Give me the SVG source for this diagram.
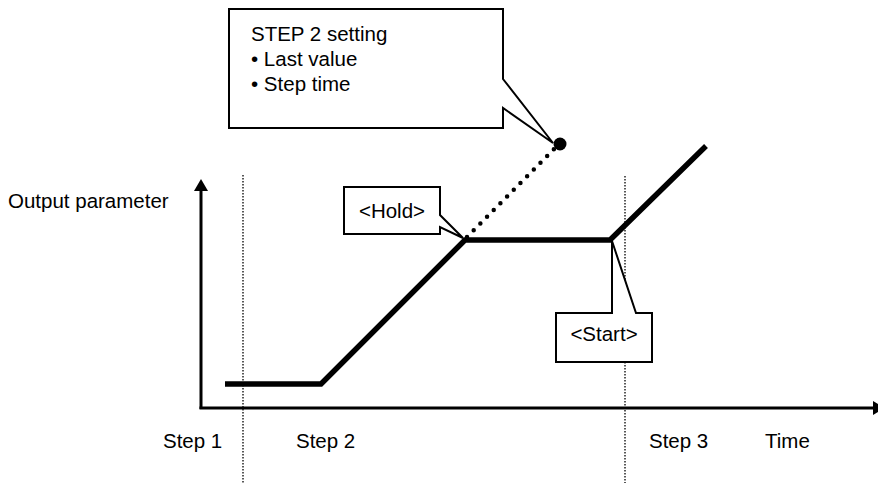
<svg xmlns="http://www.w3.org/2000/svg" width="878" height="483" viewBox="0 0 878 483">
<style>
text{font-family:"Liberation Sans",Arial,sans-serif;font-size:20.5px;fill:#000}
.callout{fill:#fff;stroke:#000;stroke-width:2;stroke-linejoin:miter}
.axis{stroke:#000;stroke-width:3;fill:none}
.grid{stroke:#000;stroke-width:1.3;stroke-dasharray:1.5 1.5;fill:none}
.curve{stroke:#000;stroke-width:5.5;fill:none;stroke-linejoin:miter}
</style>
<defs>
<marker id="arr" viewBox="0 0 12 14" refX="0" refY="7" markerWidth="12" markerHeight="14" markerUnits="userSpaceOnUse" orient="auto">
<path d="M0,0 L12,7 L0,14 Z" fill="#000"/>
</marker>
</defs>
<rect width="878" height="483" fill="#fff"/>
<g id="connectors">
<line class="grid" x1="243" y1="175" x2="243" y2="483"/>
<line class="grid" x1="625" y1="176" x2="625" y2="483"/>
<line class="axis" x1="201" y1="409" x2="201" y2="191" marker-end="url(#arr)"/>
<line class="axis" x1="199.5" y1="408" x2="873" y2="408" marker-end="url(#arr)"/>
<polyline class="curve" points="225,384 321,384 465,240 610,240 706,146"/>
<line x1="467" y1="237" x2="556" y2="147" stroke="#000" stroke-width="4.5" stroke-linecap="round" stroke-dasharray="0 9.5"/>
<circle cx="560" cy="144" r="6.5" fill="#000"/>
</g>
<g id="step2-callout">
<polygon class="callout" points="229,9 503,9 503,79 553,143 503,108 503,128 229,128"/>
<text x="251" y="41">STEP 2 setting</text>
<text x="251" y="66">• Last value</text>
<text x="251" y="91">• Step time</text>
</g>
<g id="hold-callout">
<polygon class="callout" points="344,187 440,187 440,215 463,238 440,227 440,234 344,234"/>
<text x="392" y="218" text-anchor="middle">&lt;Hold&gt;</text>
</g>
<g id="start-callout">
<polygon class="callout" points="556,313 612,313 612,241 636,313 652,313 652,362 556,362"/>
<text x="604" y="341" text-anchor="middle">&lt;Start&gt;</text>
</g>
<g id="labels">
<text x="8" y="208">Output parameter</text>
<text x="163" y="448">Step 1</text>
<text x="296" y="448">Step 2</text>
<text x="649" y="448">Step 3</text>
<text x="765" y="448">Time</text>
</g>
</svg>
